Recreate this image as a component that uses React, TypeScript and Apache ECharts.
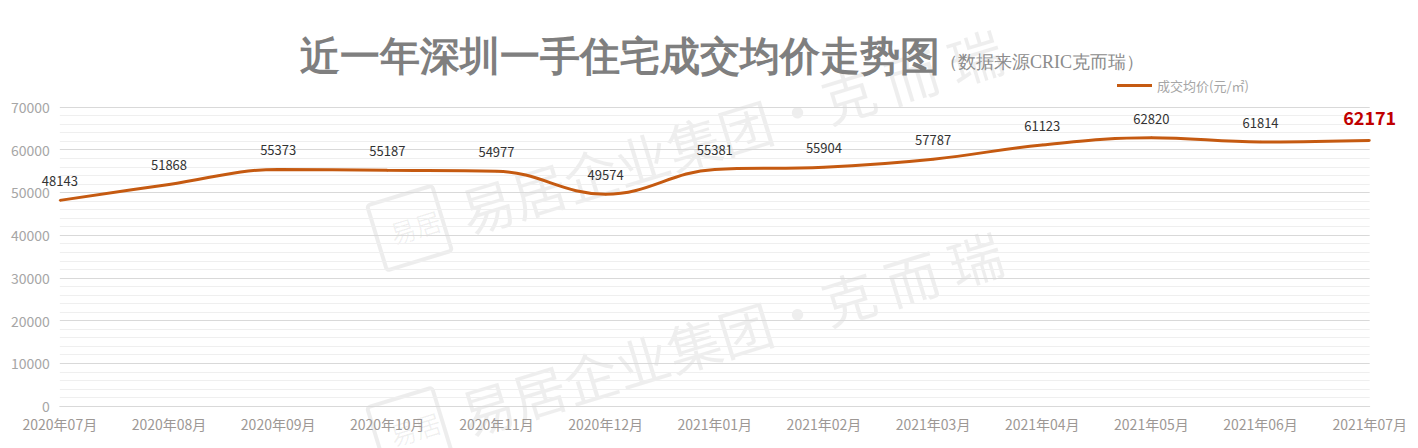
import React, { useEffect, useRef } from "react";
import * as echarts from "echarts";

const categories = [
  "2020年07月", "2020年08月", "2020年09月", "2020年10月", "2020年11月", "2020年12月",
  "2021年01月", "2021年02月", "2021年03月", "2021年04月", "2021年05月", "2021年06月", "2021年07月",
];
const avgPrice = [48143, 51868, 55373, 55187, 54977, 49574, 55381, 55904, 57787, 61123, 62820, 61814, 62171];
const seriesName = "成交均价(元/㎡)";
const titleText = "近一年深圳一手住宅成交均价走势图";
const subtitleText = "（数据来源CRIC克而瑞）";
const watermarkText = "易居企业集团·克 而 瑞";

export default function App() {
  const ref = useRef<HTMLDivElement>(null);
  useEffect(() => {
    if (!ref.current) return;
    const chart = echarts.init(ref.current, undefined, { renderer: "svg" });
    const last = avgPrice.length - 1;
    const data = avgPrice.map((v, i) =>
      i === last
        ? { value: v, label: { color: "#c00000", fontSize: 18, fontWeight: "bold", distance: 13 } }
        : v
    );
    const wm = (x: number, y: number) => ({
      type: "group",
      x,
      y,
      rotation: (17 * Math.PI) / 180,
      silent: true,
      z: -10,
      children: [
        {
          type: "rect",
          shape: { x: 0, y: -34, width: 68, height: 68, r: 3 },
          style: { fill: "none", stroke: "rgba(0,0,0,0.07)", lineWidth: 4 },
        },
        {
          type: "text",
          x: 14,
          y: 0,
          style: {
            text: "易居",
            fontSize: 26,
            fontFamily: "Noto Sans CJK SC",
            fill: "rgba(0,0,0,0.06)",
            verticalAlign: "middle",
          },
        },
        {
          type: "text",
          x: 88,
          y: 0,
          style: {
            text: watermarkText,
            fontSize: 54,
            fontFamily: "Noto Sans CJK SC",
            fill: "rgba(0,0,0,0.065)",
            verticalAlign: "middle",
          },
        },
      ],
    });
    chart.setOption({
      animation: false,
      backgroundColor: "#fff",
      grid: { left: 51, right: 39, top: 99, bottom: 42, containLabel: false },
      legend: {
        data: [seriesName],
        left: 1104,
        top: 66,
        icon: "rect",
        itemWidth: 35,
        itemHeight: 3,
        itemGap: 6,
        textStyle: { color: "#a6a6a6", fontSize: 13, fontFamily: "Noto Sans CJK SC" },
      },
      graphic: [
        wm(369, 230),
        wm(369, 432),
        {
          type: "text",
          left: 292,
          top: 28,
          style: {
            text: titleText,
            fontSize: 40,
            fontWeight: "bold",
            fontFamily: "serif",
            fill: "#7f7f7f",
          },
        },
        {
          type: "text",
          left: 932,
          top: 45,
          style: {
            text: subtitleText,
            fontSize: 18,
            fontFamily: "serif",
            fill: "#8c8c8c",
          },
        },
      ],
      xAxis: {
        type: "category",
        data: categories,
        boundaryGap: false,
        axisLine: { lineStyle: { color: "#d9d9d9" } },
        axisTick: { show: false },
        axisLabel: {
          color: "#9d9895",
          fontSize: 14,
          margin: 11,
          fontFamily: "Noto Sans CJK SC",
          interval: 0,
        },
      },
      yAxis: {
        type: "value",
        min: 0,
        max: 70000,
        interval: 10000,
        axisLine: { show: false },
        axisTick: { show: false },
        axisLabel: {
          color: "#a6a6a6",
          fontSize: 14,
          margin: 10,
          fontFamily: "Noto Sans CJK SC",
          formatter: (v: number) => String(v),
        },
        splitLine: { lineStyle: { color: "#d9d9d9" } },
        minorTick: { show: false, splitNumber: 5 },
        minorSplitLine: { show: true, lineStyle: { color: "#efefef" } },
      },
      series: [
        {
          name: seriesName,
          type: "line",
          data,
          smooth: 0.4,
          symbol: "circle",
          symbolSize: 2,
          itemStyle: { color: "#c55a11" },
          lineStyle: { color: "#c55a11", width: 3 },
          label: {
            show: true,
            position: "top",
            distance: 12,
            color: "#333",
            fontSize: 13,
            fontFamily: "Noto Sans CJK SC",
          },
        },
      ],
    });
    return () => chart.dispose();
  }, []);
  return <div ref={ref} style={{ width: 1402, height: 440 }} />;
}
